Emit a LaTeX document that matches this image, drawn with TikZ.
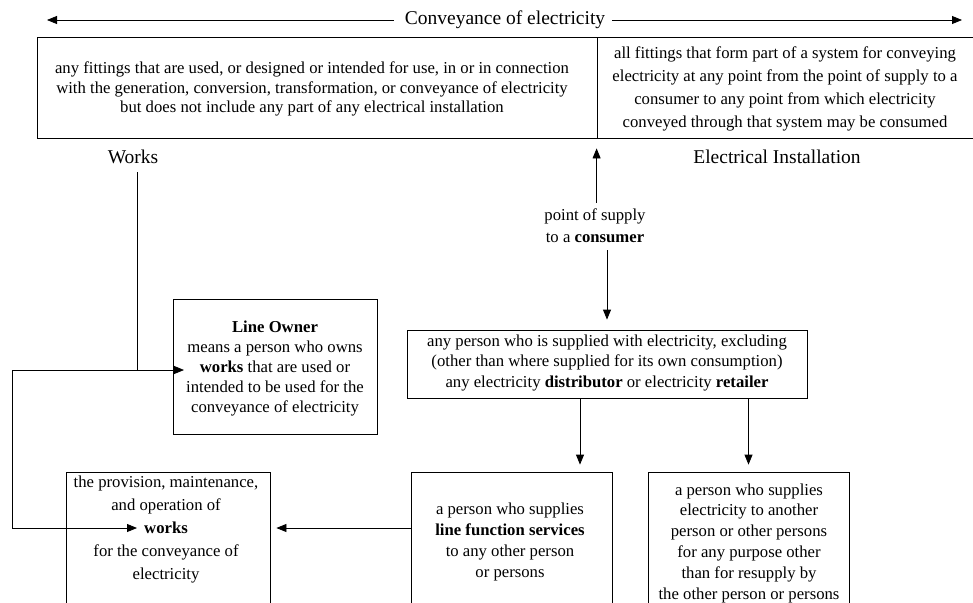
\documentclass[tikz,border=0pt]{standalone}
\usepackage{fontspec}
\setmainfont{Liberation Serif}
\usetikzlibrary{arrows.meta}
\begin{document}
\begin{tikzpicture}[x=1pt,y=-1pt,
  box/.style={draw=black, line width=0.8pt, rectangle, inner sep=0pt},
  txt/.style={align=center, inner sep=0pt, font=\fontsize{16.7}{20.8}\selectfont},
  big/.style={inner sep=0pt, font=\fontsize{19.5}{23}\selectfont},
  ln/.style={draw=black, line width=0.8pt},
  arr/.style={ln, -{Triangle[length=10pt,width=8pt]}}
]
\useasboundingbox (0,0) rectangle (973,602);
\clip (0,0) rectangle (973,602);

% boxes
\node[box, minimum width=560pt, minimum height=101pt] (topL) at (317,87.5) {};
\node[box, minimum width=383pt, minimum height=101pt] (topR) at (788.5,87.5) {};
\node[box, minimum width=204pt, minimum height=135pt] (lo) at (275,366.5) {};
\node[box, minimum width=400pt, minimum height=68pt] (consumer) at (607,364) {};
\node[box, minimum width=204pt, minimum height=168pt] (prov) at (168,556) {};
\node[box, minimum width=201pt, minimum height=168pt] (mid) at (511.5,556) {};
\node[box, minimum width=201pt, minimum height=168pt] (ret) at (748.5,556) {};

% texts
\node[big] (conv) at (505,20) {Conveyance of electricity};
\node[big] (works) at (133,157) {Works};
\node[big] (elec) at (777,157) {Electrical Installation};

\node[txt, font=\fontsize{16.7}{19.5}\selectfont] (topLt) at (312,89)
 {any fittings that are used, or designed or intended for use, in or in connection\\
  with the generation, conversion, transformation, or conveyance of electricity\\
  but does not include any part of any electrical installation};
\node[txt, font=\fontsize{16.7}{23}\selectfont] (topRt) at (785,89)
 {all fittings that form part of a system for conveying\\
  electricity at any point from the point of supply to a\\
  consumer to any point from which electricity\\
  conveyed through that system may be consumed};
\node[txt, font=\fontsize{16.7}{22}\selectfont] (supply) at (595,226)
 {point of supply\\ to a \textbf{consumer}};
\node[txt] (consumerT) at (607,363)
 {any person who is supplied with electricity, excluding\\
  (other than where supplied for its own consumption)\\
  any electricity \textbf{distributor} or electricity \textbf{retailer}};
\node[txt, font=\fontsize{16.7}{20}\selectfont] (loT) at (275,369)
 {\textbf{Line Owner}\\ means a person who owns\\ \textbf{works} that are used or\\
  intended to be used for the\\ conveyance of electricity};
\node[txt, font=\fontsize{16.7}{23}\selectfont] (provT) at (166,529)
 {the provision, maintenance,\\ and operation of\\ \textbf{works}\\
  for the conveyance of\\ electricity};
\node[txt] (midT) at (510,542)
 {a person who supplies\\ \textbf{line function services}\\ to any other person\\ or persons};
\node[txt] (retT) at (749,543)
 {a person who supplies\\ electricity to another\\ person or other persons\\
  for any purpose other\\ than for resupply by\\ the other person or persons};

% coordinates
\coordinate (convL) at (47,20);
\coordinate (convR) at (962,20);
\coordinate (wtop) at (137,172);
\coordinate (j1) at (137,370);
\coordinate (lft) at (12,370);
\coordinate (lft2) at (12,528);
\coordinate (loW) at (184,370);
\coordinate (prW) at (137,528);
\coordinate (cd) at (580,398);
\coordinate (m1) at (411,528);

% connectors
\draw[arr] ([xshift=-11pt]conv.west) -- (convL);
\draw[arr] ([xshift=7pt]conv.east) -- (convR);
\draw[arr, shorten <=6pt] (supply.north -| topR.south west) -- ([yshift=-10pt]topR.south west);
\draw[arr, shorten <=7pt, shorten >=10pt] (supply.south -| consumer.north) -- (consumer.north);
\draw[arr, shorten >=7pt] (cd) -- (cd |- mid.north);
\draw[arr, shorten >=7pt] (consumer.south -| ret.north) -- (ret.north);
\draw[arr, shorten >=6pt] (m1) -- (m1 -| prov.east);
\draw[ln] (wtop) -- (j1);
\draw[arr] (lft) -- (loW);
\draw[arr] (lft) -- (lft2) -- (prW);
\end{tikzpicture}
\end{document}
